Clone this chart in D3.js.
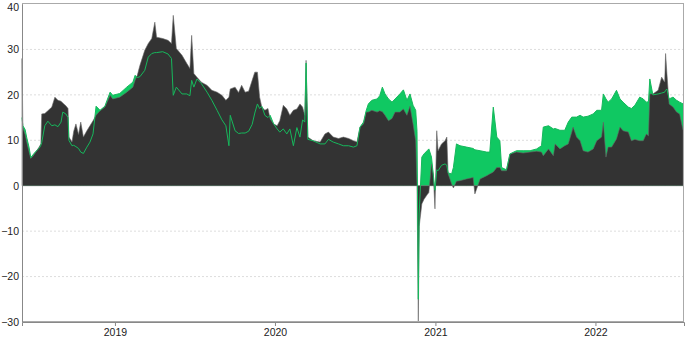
<!DOCTYPE html>
<html>
<head>
<meta charset="utf-8">
<title>Spread chart</title>
<script src="https://d3js.org/d3.v7.min.js"></script>
<style>
    body { margin: 0; background: #fff; }
    svg { display: block; font-family: "Liberation Sans", Arial, sans-serif; }
    .axis text { font-size: 10.5px; fill: #222; }
    .axis path, .axis line { stroke: #888; }
    .grid line { stroke: #ddd; stroke-dasharray: 2,2; }
</style>
</head>
<body>
<div id="chart"></div>
<script>
// dates of the readings (irregular, denser around spikes)
const dates = [
  "2018-06-03","2018-06-05","2018-06-10","2018-06-14","2018-06-19","2018-06-23","2018-06-28","2018-07-05","2018-07-12","2018-07-16",
  "2018-07-18","2018-07-25","2018-08-01","2018-08-10","2018-08-17","2018-08-24","2018-08-31","2018-09-04","2018-09-11","2018-09-16",
  "2018-09-18","2018-09-25","2018-09-29","2018-10-04","2018-10-10","2018-10-15","2018-10-21","2018-10-29","2018-11-05","2018-11-12",
  "2018-11-19","2018-11-28","2018-12-09","2018-12-21","2018-12-27","2019-01-12","2019-01-28","2019-02-11","2019-02-16","2019-02-21",
  "2019-02-27","2019-03-10","2019-03-18","2019-03-26","2019-04-02","2019-04-06","2019-04-20","2019-05-02","2019-05-10","2019-05-14",
  "2019-05-21","2019-06-03","2019-06-14","2019-06-21","2019-06-25","2019-06-30","2019-07-07","2019-07-17","2019-07-30","2019-08-10",
  "2019-08-22","2019-09-02","2019-09-11","2019-09-18","2019-09-21","2019-10-02","2019-10-10","2019-10-17","2019-10-25","2019-11-02",
  "2019-11-10","2019-11-16","2019-11-22","2019-11-27","2019-12-02","2019-12-09","2019-12-16","2019-12-21","2019-12-29","2020-01-06",
  "2020-01-12","2020-01-20","2020-01-28","2020-02-04","2020-02-12","2020-02-20","2020-02-27","2020-03-04","2020-03-09","2020-03-12",
  "2020-03-16","2020-03-28","2020-04-13","2020-04-24","2020-05-02","2020-05-13","2020-05-25","2020-06-05","2020-06-17","2020-06-28",
  "2020-07-06","2020-07-13","2020-07-21","2020-07-27","2020-08-01","2020-08-09","2020-08-21","2020-08-27","2020-09-02","2020-09-08",
  "2020-09-16","2020-09-24","2020-10-01","2020-10-12","2020-10-20","2020-10-28","2020-11-04","2020-11-11","2020-11-17","2020-11-20",
  "2020-11-23","2020-11-25","2020-12-01","2020-12-06","2020-12-13","2020-12-17","2020-12-23","2020-12-27","2020-12-31","2021-01-04",
  "2021-01-07","2021-01-15","2021-01-23","2021-01-27","2021-01-30","2021-02-07","2021-02-11","2021-02-18","2021-02-26","2021-03-13",
  "2021-03-28","2021-04-01","2021-04-13","2021-04-28","2021-05-05","2021-05-13","2021-05-21","2021-05-28","2021-06-01","2021-06-12",
  "2021-06-20","2021-07-05","2021-07-20","2021-08-05","2021-08-20","2021-08-31","2021-09-04","2021-09-16","2021-09-27","2021-10-01",
  "2021-10-12","2021-10-23","2021-10-31","2021-11-08","2021-11-11","2021-11-19","2021-11-27","2021-12-04","2021-12-15","2021-12-27",
  "2022-01-04","2022-01-15","2022-01-19","2022-01-25","2022-01-30","2022-02-07","2022-02-18","2022-02-26","2022-03-05","2022-03-17",
  "2022-03-24","2022-04-01","2022-04-12","2022-04-20","2022-04-27","2022-05-02","2022-05-05","2022-05-12","2022-05-24","2022-06-01",
  "2022-06-08","2022-06-10","2022-06-13","2022-06-18","2022-06-27","2022-07-05","2022-07-12","2022-07-20"
];

// dark series
const darkValues = [
  28, 12.8, 11.3, 9.5, 7.5, 6.0, 6.5, 7.5, 8.5, 9.2,
  15.8, 15.9, 16.5, 17.3, 19.5, 18.8, 18.6, 18.2, 17.6, 17.0,
  10.7, 9.6, 12.0, 13.6, 11.3, 14.0, 10.7, 12.1, 13.2, 14.3,
  15.5, 16.5, 17.3, 19.9, 19.1, 19.5, 20.6, 21.7, 23.2, 24.3,
  26.5, 29.8, 31.3, 32.4, 36.0, 32.7, 32.4, 32.0, 31.3, 37.5,
  30.2, 28.7, 26.9, 25.8, 33.1, 24.7, 23.9, 22.8, 22.1, 21.0,
  20.6, 19.9, 18.8, 19.5, 21.3, 21.7, 20.5, 22.1, 20.6, 20.8,
  23.2, 25.0, 25.0, 19.5, 17.3, 16.6, 17.0, 14.7, 13.6, 13.2,
  14.3, 17.7, 16.9, 15.5, 16.6, 16.9, 18.0, 17.3, 15.5, 27.6,
  10.7, 9.9, 9.6, 11.4, 11.8, 10.7, 10.4, 10.7, 10.4, 9.9,
  9.6, 12.9, 13.6, 16.2, 16.2, 16.6, 16.2, 16.5, 16.3, 15.5,
  14.3, 14.8, 16.2, 16.2, 16.9, 15.5, 17.5, 13.6, 9.9, 0.4,
  -30, -9, -4, -3, -2, -1.5, 4.8, 2.6, -5.1, 12.1,
  7.7, 9.2, 9.9, 10.7, 2.6, 0.4, -0.5, 1.0, 1.1, 1.5,
  1.8, -1.8, 1.5, 2.2, 2.6, 3.0, 4.0, 4.0, 3.3, 3.3,
  7.0, 7.4, 7.2, 7.4, 7.6, 7.4, 6.6, 8.1, 6.6, 9.2,
  8.1, 8.8, 9.2, 11.8, 12.9, 10.7, 9.9, 7.7, 7.4, 8.1,
  9.9, 10.7, 14.0, 6.3, 8.5, 8.5, 10.3, 12.9, 12.1, 11.8,
  9.9, 10.2, 9.9, 9.9, 11.4, 11.0, 20.2, 20.2, 21.0, 23.9,
  22.8, 29.1, 24.7, 18.0, 17.3, 16.2, 15.8, 12.1
];

// green series
const greenValues = [
  15, 13.2, 12.4, 10.5, 8.5, 6.2, 6.8, 7.6, 8.2, 8.9,
  9.5, 13.2, 14.2, 13.2, 13.4, 13.0, 14.0, 16.2, 15.8, 15.0,
  10.0, 8.8, 8.9, 8.6, 8.2, 7.4, 7.1, 8.5, 9.6, 11.4,
  17.5, 16.6, 17.5, 20.6, 19.9, 20.3, 21.7, 22.8, 24.3, 23.8,
  24.0, 25.4, 28.3, 29.1, 29.3, 29.3, 29.5, 29.0, 28.0, 19.9,
  21.7, 20.2, 20.2, 19.8, 23.2, 21.7, 23.5, 22.5, 20.6, 18.8,
  16.6, 14.5, 13.2, 8.8, 15.5, 12.1, 11.5, 11.6, 11.6, 12.0,
  13.5, 16.0, 18.0, 17.0, 17.5, 15.5, 15.0, 15.5, 13.6, 12.5,
  11.8, 12.5, 11.4, 12.5, 8.8, 12.8, 10.7, 14.5, 14.0, 27.0,
  10.2, 9.9, 9.2, 9.2, 10.2, 9.6, 9.2, 8.8, 8.8, 8.5,
  8.8, 12.9, 14.0, 16.5, 18.0, 18.8, 19.1, 19.8, 21.7, 20.2,
  19.1, 18.4, 19.1, 20.2, 21.1, 18.8, 20.2, 17.7, 16.6, 12.0,
  -25, -6, 6.3, 7.0, 7.7, 8.1, 6.3, 2.6, -1, 3.5,
  3.3, 4.5, 4.8, 4.5, 2.8, 2.6, 4.0, 9.2, 8.8, 8.5,
  8.2, 7.9, 7.7, 7.4, 7.4, 17.3, 10.7, 9.9, 4.0, 3.5,
  7.0, 7.7, 7.7, 7.7, 8.1, 8.8, 12.9, 13.2, 12.5, 12.6,
  12.2, 12.2, 14.0, 15.1, 15.1, 15.1, 15.5, 15.1, 15.3, 15.8,
  16.6, 16.6, 20.2, 19.1, 18.4, 19.1, 21.0, 19.1, 18.4, 17.3,
  17.0, 17.7, 19.5, 19.1, 18.4, 18.5, 23.5, 20.0, 20.2, 20.4,
  20.6, 21.0, 21.3, 19.1, 19.5, 18.8, 18.4, 18.0
];

const yTicks = [-30, -20, -10, 0, 10, 20, 30, 40];
const xTickLabels = ["2019", "2020", "2021", "2022"];

const parseDate = d3.timeParse("%Y-%m-%d");
const rows = dates.map((d, i) => ({ date: parseDate(d), dark: darkValues[i], green: greenValues[i] }));

const W = 685, H = 339;
const margin = { top: 4, right: 1, bottom: 17, left: 22 };

const svg = d3.select("#chart").append("svg")
    .attr("width", W)
    .attr("height", H);

const x = d3.scaleTime()
    .domain([parseDate("2018-06-03"), parseDate("2022-07-22")])
    .range([margin.left, W - margin.right]);

const y = d3.scaleLinear()
    .domain([-30, 40])
    .range([H - margin.bottom, margin.top]);

// grid
svg.append("g").attr("class", "grid")
    .selectAll("line")
    .data(yTicks.filter(t => t !== 0 && t !== 40 && t !== -30))
    .join("line")
    .attr("x1", margin.left).attr("x2", W - margin.right)
    .attr("y1", d => y(d)).attr("y2", d => y(d));

const area = key => d3.area()
    .x(d => x(d.date))
    .y0(y(0))
    .y1(d => y(d[key]));

svg.append("path").datum(rows)
    .attr("d", area("green"))
    .attr("fill", "#10c862");

svg.append("path").datum(rows)
    .attr("d", area("dark"))
    .attr("fill", "#333333")
    .attr("stroke", "#666")
    .attr("stroke-width", 0.6);

svg.append("path").datum(rows)
    .attr("d", d3.line().x(d => x(d.date)).y(d => y(d.green)))
    .attr("fill", "none")
    .attr("stroke", "#16b85c")
    .attr("stroke-width", 1);

// frame
svg.append("rect")
    .attr("x", margin.left + 0.5).attr("y", margin.top - 0.5)
    .attr("width", W - margin.left - margin.right - 1)
    .attr("height", H - margin.top - margin.bottom)
    .attr("fill", "none")
    .attr("stroke", "#aaa");

// axes
const yAxis = svg.append("g").attr("class", "axis")
    .attr("transform", `translate(${margin.left},0)`)
    .call(d3.axisLeft(y).tickValues(yTicks).tickSize(0).tickPadding(3));

// keep the top label inside the picture
yAxis.selectAll(".tick text").filter(d => d === 40).attr("dy", "0.62em");

const xAxis = svg.append("g").attr("class", "axis")
    .attr("transform", `translate(0,${H - margin.bottom})`)
    .call(d3.axisBottom(x)
        .tickValues(xTickLabels.map(t => parseDate(t + "-01-01")))
        .tickFormat((d, i) => xTickLabels[i])
        .tickSize(4).tickPadding(3));

xAxis.select(".domain").attr("stroke", "#888");
</script>
</body>
</html>
